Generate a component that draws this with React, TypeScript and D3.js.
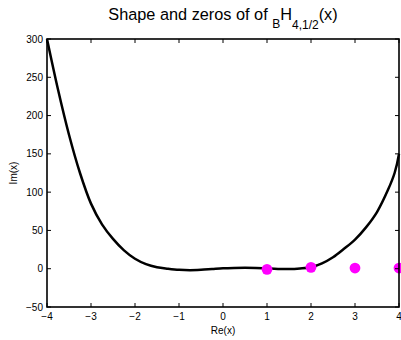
import * as d3 from 'd3';

// curve samples (Re(x) -> value)
const curveX = [-4, -3.75, -3.5, -3.25, -3, -2.75, -2.5, -2.25, -2, -1.75, -1.5, -1.25, -1, -0.75, -0.5, -0.25, 0, 0.25, 0.5, 0.75, 1, 1.25, 1.5, 1.75, 2, 2.25, 2.5, 2.75, 3, 3.25, 3.5, 3.75, 3.9, 4];
const curveY = [300, 234, 175, 125, 85, 58, 39, 24, 13, 6, 2, 0, -1.5, -2, -1.5, -0.5, 0.5, 1, 1.2, 1, 0.3, -0.3, -0.5, 0.3, 2, 7, 15, 26, 38, 54, 74, 103, 125, 150];

// zeros (Re, Im)
const zeroRe = [1, 2, 3, 4];
const zeroIm = [-0.8, 1.8, 0.9, 0.9];

const xTicks = [-4, -3, -2, -1, 0, 1, 2, 3, 4];
const yTicks = [-50, 0, 50, 100, 150, 200, 250, 300];

const font = '"Liberation Sans", Arial, Helvetica, sans-serif';

export default function App() {
  const width = 401;
  const height = 340;
  const left = 47;
  const right = 399;
  const top = 39;
  const bottom = 307;

  const x = d3.scaleLinear().domain([-4, 4]).range([left, right]);
  const y = d3.scaleLinear().domain([-50, 300]).range([bottom, top]);

  const line = d3
    .line<number>()
    .x((d) => x(d))
    .y((_, i) => y(curveY[i]))
    .curve(d3.curveCatmullRom.alpha(0.5));

  const fmt = (v: number) => (v < 0 ? '\u2212' + Math.abs(v) : String(v));
  const tick = 4;

  return (
    <svg
      width={width}
      height={height}
      style={{ position: 'absolute', left: 0, top: 0, background: '#fff' }}
      fontFamily={font}
    >
      <rect width={width} height={height} fill="#fff" />

      <text x={(left + right) / 2} y={20} textAnchor="middle" fontSize={16.3} fill="#000">
        Shape and zeros of of{' '}
        <tspan fontSize={12} dy={8}>B</tspan>
        <tspan fontSize={16.3} dy={-8}>H</tspan>
        <tspan fontSize={12} dy={8.5}>4,1/2</tspan>
        <tspan fontSize={16.3} dy={-8.5}>(x)</tspan>
      </text>

      <path d={line(curveX) ?? ''} fill="none" stroke="#000" strokeWidth={2.5} />

      {zeroRe.map((re, i) => (
        <circle key={re} cx={x(re)} cy={y(zeroIm[i])} r={5.4} fill="#ff00ff" />
      ))}

      {xTicks.map((t) => (
        <g key={'x' + t}>
          <line x1={x(t)} x2={x(t)} y1={bottom} y2={bottom - tick} stroke="#000" strokeWidth={1} />
          <line x1={x(t)} x2={x(t)} y1={top} y2={top + tick} stroke="#000" strokeWidth={1} />
          <text x={x(t)} y={bottom + 13} textAnchor="middle" fontSize={10} fill="#000">
            {fmt(t)}
          </text>
        </g>
      ))}

      {yTicks.map((t) => (
        <g key={'y' + t}>
          <line x1={left} x2={left + tick} y1={y(t)} y2={y(t)} stroke="#000" strokeWidth={1} />
          <line x1={right} x2={right - tick} y1={y(t)} y2={y(t)} stroke="#000" strokeWidth={1} />
          <text x={left - 4} y={y(t) + 3.5} textAnchor="end" fontSize={10} fill="#000">
            {fmt(t)}
          </text>
        </g>
      ))}

      <rect
        x={left}
        y={top}
        width={right - left}
        height={bottom - top}
        fill="none"
        stroke="#000"
        strokeWidth={1.6}
      />

      <text x={(left + right) / 2} y={334} textAnchor="middle" fontSize={10} fill="#000">
        Re(x)
      </text>
      <text
        transform={`translate(17,${(top + bottom) / 2}) rotate(-90)`}
        textAnchor="middle"
        fontSize={10}
        fill="#000"
      >
        Im(x)
      </text>
    </svg>
  );
}
